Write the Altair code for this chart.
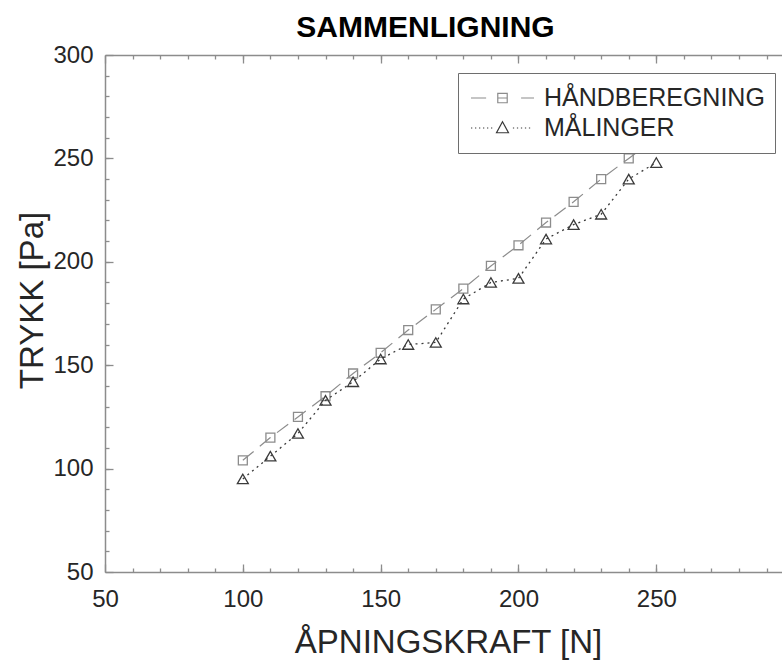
import altair as alt
import pandas as pd

# ---- data ----
x_vals = [100, 110, 120, 130, 140, 150, 160, 170, 180, 190, 200, 210, 220, 230, 240, 250]
haand = [104, 115, 125, 135, 146, 156, 167, 177, 187, 198, 208, 219, 229, 240, 250, 260]
maal = [95, 106, 117, 133, 142, 153, 160, 161, 182, 190, 192, 211, 218, 223, 240, 248]
series = ["HÅNDBEREGNING", "MÅLINGER"]
x_ticks = [50, 100, 150, 200, 250]
y_ticks = [50, 100, 150, 200, 250, 300]
x_minor = list(range(60, 300, 10))
y_minor = list(range(60, 300, 10))

df = pd.DataFrame({
    "x": x_vals + x_vals,
    "y": haand + maal,
    "s": [series[0]] * len(x_vals) + [series[1]] * len(x_vals),
})
df_h = df[df.s == series[0]]
df_m = df[df.s == series[1]]

W, H = 677, 517
FONT = "Liberation Sans"
AX = "#8c8c8c"
LAB = "#262626"
C_H = "#8c8c8c"
C_M = "#3a3a3a"

xscale = alt.Scale(domain=[50, 295.6], nice=False, zero=False)
yscale = alt.Scale(domain=[50, 300], nice=False, zero=False)

# legend symbol paths (line + marker)
sym_h = ("M-1,0H-0.52M0.59,0H1"
         "M-0.15,-0.15H0.15V0.15H-0.15ZM-0.15,0H0.15")
dots_left = [-1, -0.873, -0.746, -0.619, -0.492, -0.365]
dots_right = [0.33, 0.457, 0.584, 0.711, 0.838]
sym_m = "".join(f"M{d},0h0.04" for d in dots_left + dots_right)
sym_m += "M0,-0.2L0.19,0.15H-0.19Z"

common_tick = dict(labels=False, domain=False, grid=False, title=None,
                   tickColor=AX, tickWidth=1.3)

ax_x_main = alt.Axis(orient="bottom", values=x_ticks, ticks=False, grid=False,
                     labelFontSize=24, labelFont=FONT, labelColor=LAB,
                     labelPadding=15, labelFlush=False,
                     domainColor=AX, domainWidth=1.5,
                     title="ÅPNINGSKRAFT [N]", titleFontSize=33, titleFont=FONT,
                     titleFontWeight="normal", titleColor=LAB,
                     titleBaseline="alphabetic", titleY=80, titleX=343)
ax_y_main = alt.Axis(orient="left", values=y_ticks, ticks=False, grid=False,
                     labelFontSize=24, labelFont=FONT, labelColor=LAB,
                     labelPadding=12, labelFlush=False,
                     domainColor=AX, domainWidth=1.5,
                     title="TRYKK [Pa]", titleFontSize=33, titleFont=FONT,
                     titleFontWeight="normal", titleColor=LAB,
                     titleBaseline="alphabetic", titleX=-63, titleY=245)

ax_xb_major = alt.Axis(orient="top", offset=-H, values=x_ticks, tickSize=8, **common_tick)
ax_xb_minor = alt.Axis(orient="top", offset=-H, values=x_minor, tickSize=4, **common_tick)
ax_xt_major = alt.Axis(orient="bottom", offset=-H, values=x_ticks, tickSize=8,
                       labels=False, domain=True, domainColor=AX, domainWidth=1.5,
                       grid=False, title=None, tickColor=AX, tickWidth=1.3)
ax_xt_minor = alt.Axis(orient="bottom", offset=-H, values=x_minor, tickSize=4, **common_tick)
ax_yl_major = alt.Axis(orient="right", offset=-W, values=y_ticks, tickSize=8, **common_tick)
ax_yl_minor = alt.Axis(orient="right", offset=-W, values=y_minor, tickSize=4, **common_tick)

legend = alt.Legend(
    title=None, orient="none", legendX=353, legendY=18,
    fillColor="white", strokeColor="#6e6e6e", cornerRadius=0,
    padding=10, symbolSize=3969, clipHeight=30, symbolOffset=2,
    symbolStrokeWidth=1.2, symbolOpacity=1, labelOffset=9,
    labelFontSize=25, labelFont=FONT, labelColor=LAB, labelLimit=400,
    rowPadding=0,
)

l0 = alt.Chart(df).mark_point(filled=False, opacity=0).encode(
    x=alt.X("x:Q", scale=xscale, axis=ax_x_main),
    y=alt.Y("y:Q", scale=yscale, axis=ax_y_main),
    color=alt.Color("s:N", scale=alt.Scale(domain=series, range=[C_H, C_M]), legend=legend),
    shape=alt.Shape("s:N", scale=alt.Scale(domain=series, range=[sym_h, sym_m]), legend=legend),
)

l1 = alt.Chart(df_h).mark_line(strokeWidth=1.2, strokeDash=[14, 8], color=C_H).encode(
    x=alt.X("x:Q", scale=xscale, axis=ax_xb_major),
    y=alt.Y("y:Q", scale=yscale, axis=ax_yl_major),
)
l2 = alt.Chart(df_h).mark_point(shape="square", size=80, filled=False,
                                strokeWidth=1.3, color=C_H, opacity=1).encode(
    x=alt.X("x:Q", scale=xscale, axis=ax_xb_minor),
    y=alt.Y("y:Q", scale=yscale, axis=ax_yl_minor),
)
l3 = alt.Chart(df_m).mark_line(strokeWidth=1.3, strokeDash=[2, 4], color=C_M).encode(
    x=alt.X("x:Q", scale=xscale, axis=ax_xt_major),
    y=alt.Y("y:Q", scale=yscale, axis=None),
)
l4 = alt.Chart(df_m).mark_point(shape="triangle-up", size=120, filled=False,
                                strokeWidth=1.3, color=C_M, opacity=1).encode(
    x=alt.X("x:Q", scale=xscale, axis=ax_xt_minor),
    y=alt.Y("y:Q", scale=yscale, axis=None),
)

chart = alt.layer(l0, l1, l2, l3, l4).resolve_axis(
    x="independent", y="independent"
).properties(
    width=W, height=H,
    title=alt.TitleParams("SAMMENLIGNING", fontSize=30, font=FONT, fontWeight="bold",
                          color="#000000", anchor="middle", dx=-18, dy=32, offset=8,
                          frame="group", baseline="alphabetic"),
    autosize=alt.AutoSizeParams(type="none"),
    padding={"left": 105, "top": 55, "right": 0, "bottom": 88},
).configure_view(stroke=None).configure_legend(strokeWidth=1.5).configure(background="white")

chart.save("out.html", embed_options={"renderer": "svg", "actions": False})
